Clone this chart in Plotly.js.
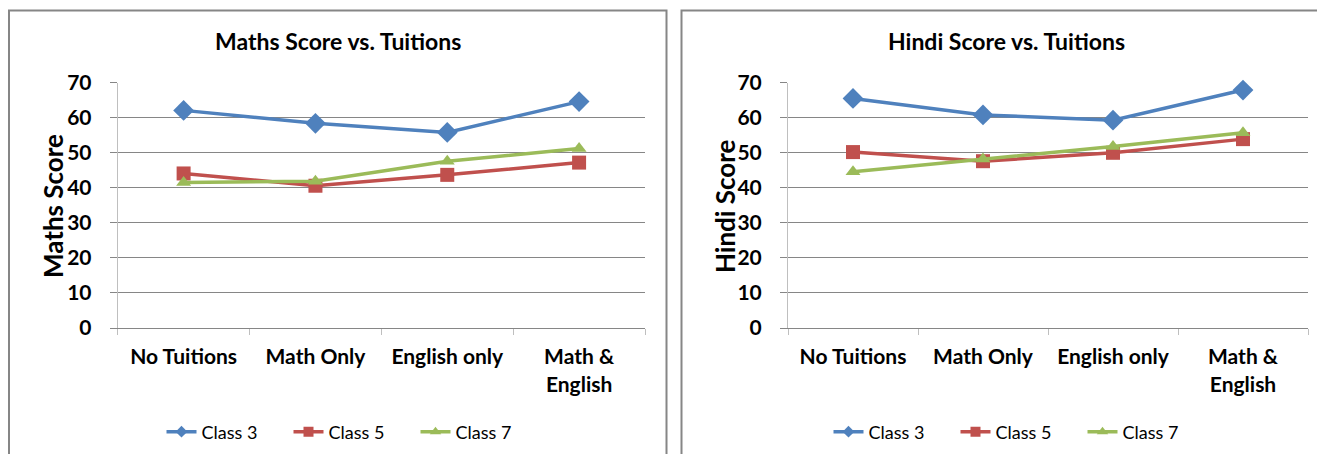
<!DOCTYPE html>
<html>
<head>
<meta charset="utf-8">
<script src="https://cdn.plot.ly/plotly-3.0.1.min.js"></script>
<style>html,body{margin:0;padding:0;background:#fff;}#chart{width:1317px;height:454px;}</style>
</head>
<body>
<div id="chart"></div>
<script>
// ---- data ----
const categories = ["No Tuitions", "Math Only", "English only", "Math &<br>English"];
const seriesNames = ["Class 3", "Class 5", "Class 7"];
const mathsClass3 = [62.1, 58.4, 55.8, 64.6];
const mathsClass5 = [44.1, 40.6, 43.7, 47.2];
const mathsClass7 = [41.5, 41.9, 47.6, 51.2];
const hindiClass3 = [65.5, 60.8, 59.3, 67.9];
const hindiClass5 = [50.2, 47.6, 50.0, 53.9];
const hindiClass7 = [44.6, 48.2, 51.8, 55.7];
const yTicks = [0, 10, 20, 30, 40, 50, 60, 70];

// ---- styles ----
const W = 1317, H = 454;
const px = x => x / W;
const py = y => 1 - y / H;
const colors = ["#4F81BD", "#C0504D", "#9BBB59"];
const symbols = ["diamond", "square", "triangle-up"];
const sizes = [16, 14, 13];
const legendSizes = [9, 10, 10];
const FONT = "Lato, 'Open Sans', sans-serif";

function makeTrace(name, i, y, xa, ya) {
  return {
    type: "scatter", mode: "lines+markers",
    x: categories, y: y, name: name,
    xaxis: xa, yaxis: ya, showlegend: false,
    line: {color: colors[i], width: 3.5},
    marker: {color: colors[i], symbol: symbols[i], size: sizes[i]},
    cliponaxis: false
  };
}
// legend entries (no data; smaller legend symbols like the original)
function legendTrace(name, i, xa, ya, legend) {
  return {
    type: "scatter", mode: "lines+markers",
    x: [null], y: [null], name: name,
    xaxis: xa, yaxis: ya, legend: legend, showlegend: true,
    line: {color: colors[i], width: 3.5},
    marker: {color: colors[i], symbol: symbols[i], size: legendSizes[i]},
    hoverinfo: "skip"
  };
}

const traces = [
  makeTrace(seriesNames[0], 0, mathsClass3, "x", "y"),
  makeTrace(seriesNames[1], 1, mathsClass5, "x", "y"),
  makeTrace(seriesNames[2], 2, mathsClass7, "x", "y"),
  makeTrace(seriesNames[0], 0, hindiClass3, "x2", "y2"),
  makeTrace(seriesNames[1], 1, hindiClass5, "x2", "y2"),
  makeTrace(seriesNames[2], 2, hindiClass7, "x2", "y2")
];
seriesNames.forEach((n, i) => traces.push(legendTrace(n, i, "x", "y", "legend")));
seriesNames.forEach((n, i) => traces.push(legendTrace(n, i, "x2", "y2", "legend2")));

const xBase = {
  type: "category", range: [-0.5, 3.5], autorange: false,
  categoryorder: "array", categoryarray: categories,
  showgrid: false, zeroline: false,
  showline: true, linecolor: "#868686", linewidth: 1,
  ticks: "outside", tickson: "boundaries", ticklen: 6, tickcolor: "#BFBFBF",
  tickfont: {family: FONT, size: 21, color: "#000", weight: 700},
  ticklabelstandoff: 10, fixedrange: true
};
const yBase = {
  range: [0, 70], autorange: false, tickvals: yTicks, ticktext: yTicks.map(String),
  showgrid: true, gridcolor: "#868686", gridwidth: 1, zeroline: false,
  showline: true, linecolor: "#BFBFBF", linewidth: 1,
  ticks: "outside", ticklen: 7, tickcolor: "#868686",
  tickfont: {family: FONT, size: 21, color: "#000", weight: 700},
  ticklabelstandoff: 14, fixedrange: true
};

const yDom = [py(328), py(82.7)];
const legendBase = {
  orientation: "h", xanchor: "center", yanchor: "middle", y: py(432),
  font: {family: FONT, size: 18, color: "#000"}, bgcolor: "rgba(0,0,0,0)",
  entrywidth: 82, entrywidthmode: "pixels", traceorder: "normal"
};

const layout = {
  width: W, height: H, autosize: false,
  margin: {l: 0, r: 0, t: 0, b: 0, pad: 0},
  paper_bgcolor: "#fff", plot_bgcolor: "#fff",
  showlegend: true,
  xaxis: Object.assign({}, xBase, {domain: [px(117.7), px(645)], anchor: "y"}),
  yaxis: Object.assign({}, yBase, {domain: yDom, anchor: "x"}),
  xaxis2: Object.assign({}, xBase, {domain: [px(788), px(1308)], anchor: "y2"}),
  yaxis2: Object.assign({}, yBase, {domain: yDom, anchor: "x2"}),
  legend: Object.assign({}, legendBase, {x: px(352)}),
  legend2: Object.assign({}, legendBase, {x: px(1019)}),
  annotations: [
    {text: "Maths Score vs. Tuitions", xref: "paper", yref: "paper", x: px(337.5), y: py(41.5),
     xanchor: "center", yanchor: "middle", showarrow: false,
     font: {family: FONT, size: 23, color: "#000", weight: 700}},
    {text: "Hindi Score vs. Tuitions", xref: "paper", yref: "paper", x: px(1006), y: py(41.5),
     xanchor: "center", yanchor: "middle", showarrow: false,
     font: {family: FONT, size: 23, color: "#000", weight: 700}},
    {text: "Maths Score", xref: "paper", yref: "paper", x: px(53), y: py(206), textangle: -90,
     xanchor: "center", yanchor: "middle", showarrow: false,
     font: {family: FONT, size: 26, color: "#000", weight: 700}},
    {text: "Hindi Score", xref: "paper", yref: "paper", x: px(725), y: py(206), textangle: -90,
     xanchor: "center", yanchor: "middle", showarrow: false,
     font: {family: FONT, size: 26, color: "#000", weight: 700}}
  ],
  shapes: [
    {type: "path", xref: "paper", yref: "paper", layer: "below",
     path: "M " + px(9) + "," + py(470) + " L " + px(9) + "," + py(10.5) + " L " + px(666.5) + "," + py(10.5) + " L " + px(666.5) + "," + py(470),
     line: {color: "#868686", width: 2}},
    {type: "path", xref: "paper", yref: "paper", layer: "below",
     path: "M " + px(681.5) + "," + py(470) + " L " + px(681.5) + "," + py(10.5) + " L " + px(1330) + "," + py(10.5),
     line: {color: "#868686", width: 2}}
  ]
};

Plotly.newPlot("chart", traces, layout, {displayModeBar: false, staticPlot: true});
</script>
</body>
</html>
